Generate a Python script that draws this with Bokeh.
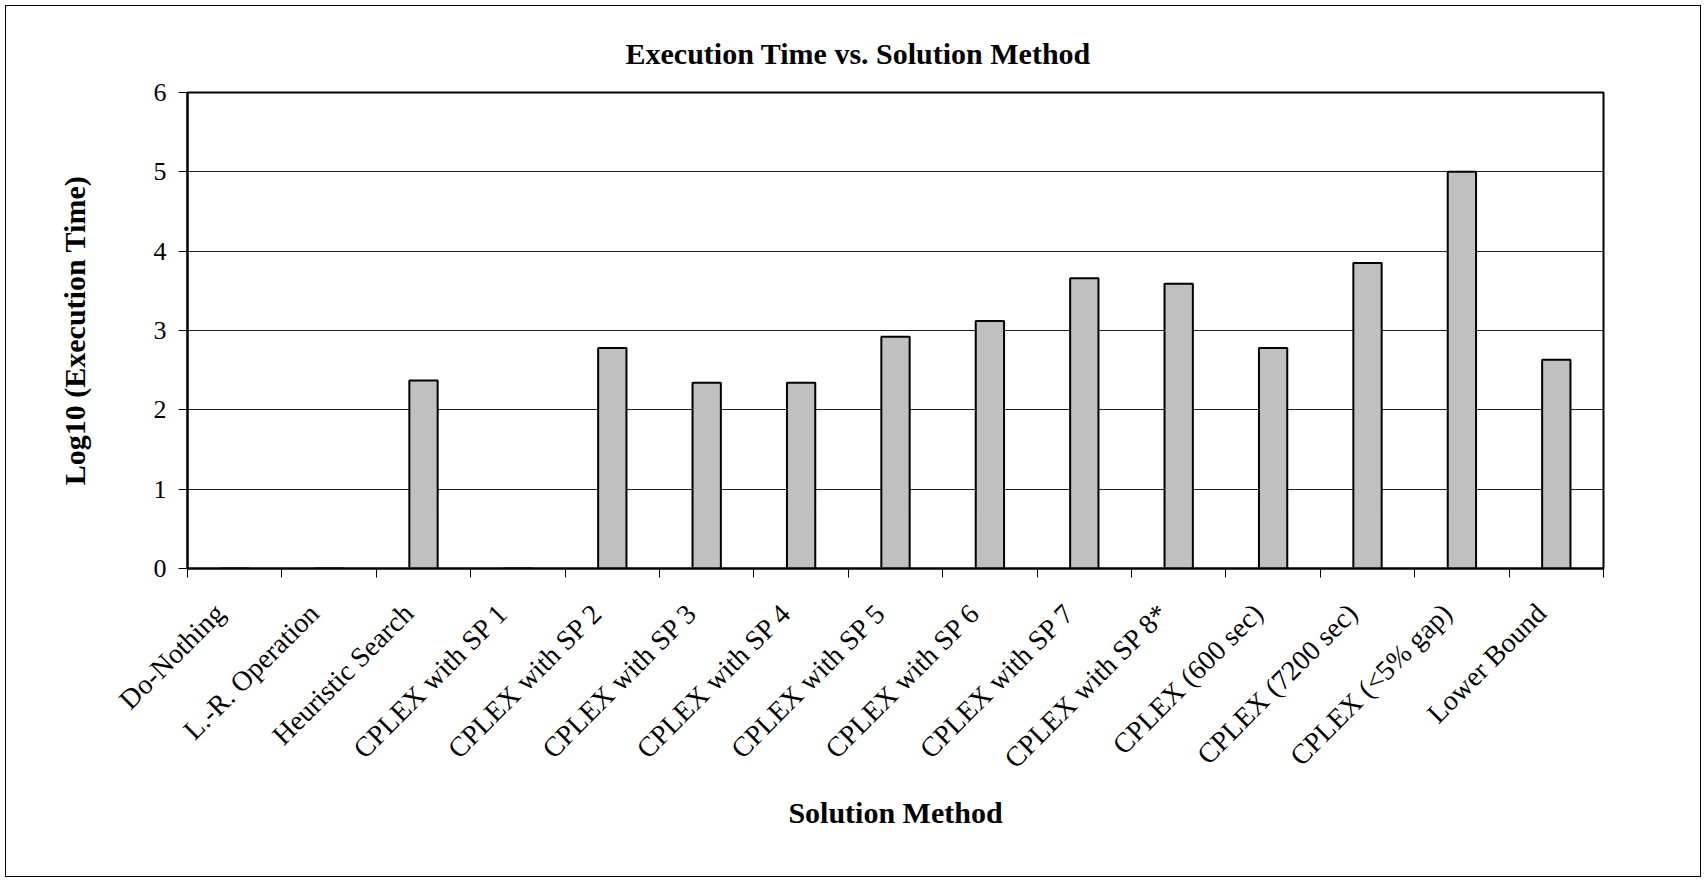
import numpy as np
from bokeh.plotting import figure
from bokeh.models import Range1d, FixedTicker, ColumnDataSource
from bokeh.embed import file_html
from bokeh.resources import INLINE

# Solution methods and log10 of their execution times
methods = [
    "Do-Nothing", "L.-R. Operation", "Heuristic Search",
    "CPLEX with SP 1", "CPLEX with SP 2", "CPLEX with SP 3", "CPLEX with SP 4",
    "CPLEX with SP 5", "CPLEX with SP 6", "CPLEX with SP 7", "CPLEX with SP 8*",
    "CPLEX (600 sec)", "CPLEX (7200 sec)", "CPLEX (<5% gap)", "Lower Bound",
]
log_times = [0, 0, 2.37, 0, 2.78, 2.34, 2.34, 2.92, 3.12, 3.66, 3.59, 2.78, 3.85, 5.00, 2.63]
y_ticks = [0, 1, 2, 3, 4, 5, 6]

FONT = "Liberation Serif"

n = len(methods)
centers = np.arange(n) + 0.5
# slanted labels end just left of each category centre
label_pos = centers - 0.16
src = ColumnDataSource(dict(x=centers, top=log_times, name=methods))

p = figure(
    width=1696, height=872,
    x_range=Range1d(0, n), y_range=Range1d(0, 6),
    output_backend="svg", toolbar_location=None,
    min_border_left=181, min_border_right=99,
    min_border_top=86, min_border_bottom=310,
    title="Execution Time vs. Solution Method",
)
p.margin = (5, 0, 0, 5)
p.styles = {"border": "1px solid black"}

p.vbar(x="x", top="top", width=0.3, bottom=0, source=src,
       fill_color="#C0C0C0", line_color="black", line_width=2)

# title, centred on the whole chart rather than the plot frame
p.title.text_font = FONT
p.title.text_font_size = "30px"
p.title.text_font_style = "bold"
p.title.align = "left"
p.title.offset = 438
p.title.standoff = 45
p.title.text_color = "black"

# frame and grid
p.outline_line_color = "black"
p.outline_line_width = 2
p.xgrid.grid_line_color = None
p.ygrid.grid_line_color = "#222222"
p.ygrid.grid_line_width = 1
p.background_fill_color = "white"
p.border_fill_color = "white"

# y axis
p.yaxis.ticker = FixedTicker(ticks=y_ticks)
p.yaxis.axis_label = "Log10 (Execution Time)"
p.yaxis.axis_line_color = "black"
p.yaxis.axis_line_width = 2
p.yaxis.major_tick_in = 0
p.yaxis.major_tick_out = 9
p.yaxis.major_tick_line_color = "black"
p.yaxis.minor_tick_line_color = None
p.yaxis.major_label_standoff = 12
p.yaxis.major_label_text_font = FONT
p.yaxis.major_label_text_font_size = "26px"
p.yaxis.major_label_text_color = "black"
p.yaxis.axis_label_text_font = FONT
p.yaxis.axis_label_text_font_size = "30px"
p.yaxis.axis_label_text_font_style = "bold"
p.yaxis.axis_label_text_color = "black"
p.yaxis.axis_label_standoff = 60

# x axis: slanted method names, ticks on category boundaries
p.xaxis.ticker = FixedTicker(ticks=list(label_pos), minor_ticks=list(range(n + 1)))
p.xaxis.major_label_overrides = {float(c): m for c, m in zip(label_pos, methods)}
p.xaxis.major_label_orientation = np.pi / 4
p.xaxis.axis_label = "Solution Method"
p.xaxis.axis_line_color = "black"
p.xaxis.axis_line_width = 2
p.xaxis.major_tick_in = 0
p.xaxis.major_tick_out = 0
p.xaxis.minor_tick_in = 0
p.xaxis.minor_tick_out = 9
p.xaxis.minor_tick_line_color = "black"
p.xaxis.major_label_standoff = 31
p.xaxis.major_label_text_font = FONT
p.xaxis.major_label_text_font_size = "28px"
p.xaxis.major_label_text_color = "black"
p.xaxis.axis_label_text_font = FONT
p.xaxis.axis_label_text_font_size = "30px"
p.xaxis.axis_label_text_font_style = "bold"
p.xaxis.axis_label_text_color = "black"
p.xaxis.axis_label_standoff = 8

open("out.html", "w").write(file_html(p, INLINE))
